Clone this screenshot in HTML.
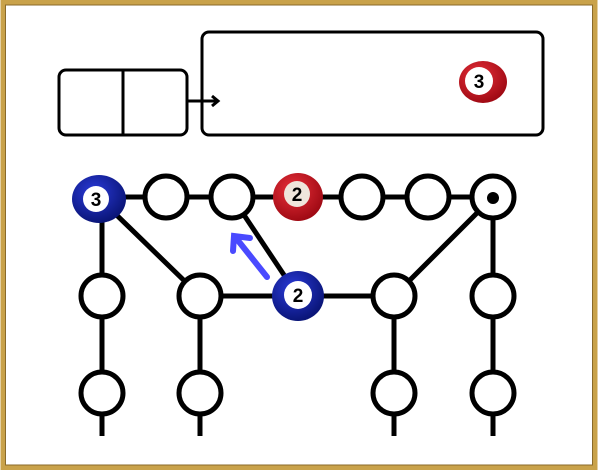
<!DOCTYPE html>
<html><head><style>
html,body{margin:0;padding:0;background:#fff;}
svg{display:block;}
text{font-family:"Liberation Sans",sans-serif;font-weight:bold;}
</style></head><body>
<svg width="600" height="471" viewBox="0 0 600 471" xmlns="http://www.w3.org/2000/svg">
<defs>
<radialGradient id="blue" cx="40%" cy="35%" r="65%"><stop offset="0" stop-color="#2a3ad8"/><stop offset="1" stop-color="#0a1578"/></radialGradient>
<radialGradient id="red" cx="40%" cy="35%" r="65%"><stop offset="0" stop-color="#e8303a"/><stop offset="1" stop-color="#a00a14"/></radialGradient>
</defs>
<rect x="0" y="0" width="600" height="471" fill="#fff"/>
<rect x="3" y="2.5" width="592" height="465" fill="none" stroke="#c9a24a" stroke-width="5"/>
<rect x="5.5" y="5" width="587" height="460" fill="none" stroke="#8a6a2a" stroke-width="1"/>
<g fill="none" stroke="#000" stroke-width="3">
<rect x="59" y="70" width="128" height="65" rx="7"/>
<line x1="123" y1="70" x2="123" y2="135"/>
<rect x="202" y="32" width="341" height="103" rx="7"/>
<line x1="188" y1="101" x2="217" y2="101"/>
<polyline points="212,96 218,101 212,106"/>
</g>
<g stroke="#000" stroke-width="5" fill="none">
<line x1="98" y1="197" x2="493" y2="197"/>
<line x1="102" y1="197" x2="102" y2="436"/>
<line x1="98" y1="197" x2="200" y2="296"/>
<line x1="232" y1="197" x2="298" y2="296"/>
<line x1="493" y1="197" x2="394" y2="296"/>
<line x1="200" y1="296" x2="394" y2="296"/>
<line x1="200" y1="296" x2="200" y2="436"/>
<line x1="394" y1="296" x2="394" y2="436"/>
<line x1="493" y1="197" x2="493" y2="436"/>
</g>
<g stroke="#000" stroke-width="5" fill="#fff">
<circle cx="166" cy="197" r="21"/>
<circle cx="232" cy="197" r="21"/>
<circle cx="362" cy="197" r="21"/>
<circle cx="428" cy="197" r="21"/>
<circle cx="493" cy="197" r="21"/>
<circle cx="102" cy="296" r="21"/>
<circle cx="200" cy="296" r="21"/>
<circle cx="394" cy="296" r="21"/>
<circle cx="493" cy="296" r="21"/>
<circle cx="102" cy="393" r="21"/>
<circle cx="200" cy="393" r="21"/>
<circle cx="394" cy="393" r="21"/>
<circle cx="493" cy="393" r="21"/>
</g>
<circle cx="493" cy="198" r="6" fill="#000"/>
<!-- balls -->
<ellipse cx="99" cy="199" rx="27" ry="24" fill="url(#blue)"/>
<circle cx="96" cy="199" r="13" fill="#fff"/>
<text x="96" y="206" font-size="19" text-anchor="middle">3</text>
<ellipse cx="298" cy="197" rx="25" ry="24" fill="url(#red)"/>
<circle cx="297" cy="194" r="13" fill="#efe6dc"/>
<text x="297" y="201" font-size="19" text-anchor="middle">2</text>
<ellipse cx="298" cy="296" rx="26" ry="25" fill="url(#blue)"/>
<circle cx="298" cy="295" r="14" fill="#fff"/>
<text x="298" y="302" font-size="19" text-anchor="middle">2</text>
<ellipse cx="483" cy="82" rx="24" ry="21" fill="url(#red)"/>
<circle cx="479" cy="81" r="14" fill="#fff"/>
<text x="479" y="88" font-size="19" text-anchor="middle">3</text>
<!-- blue arrow -->
<g stroke="#4a4aff" stroke-width="6" stroke-linecap="round" fill="none">
<line x1="267" y1="277" x2="236" y2="238"/>
<polyline points="233,251 234,236 250,238"/>
</g>
</svg>
</body></html>
